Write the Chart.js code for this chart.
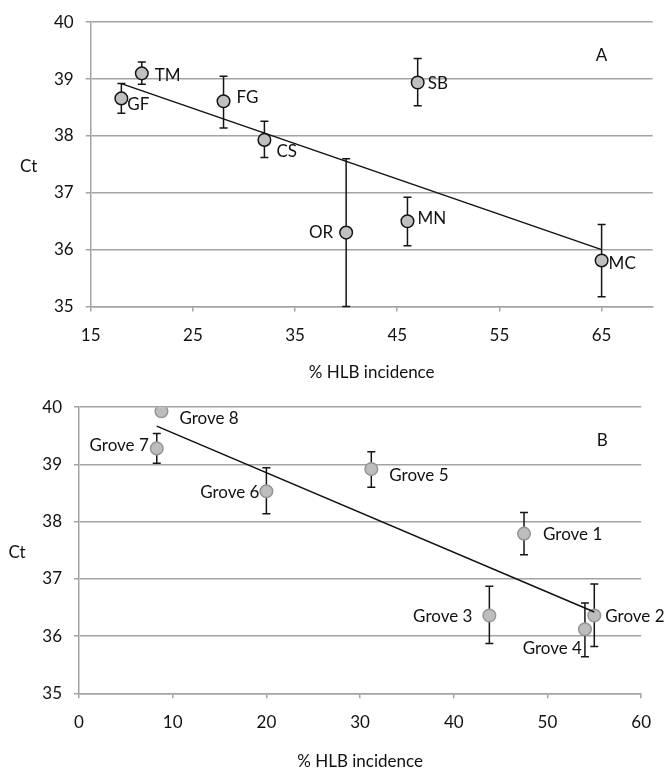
<!DOCTYPE html>
<html>
<head>
<meta charset="utf-8">
<script src="https://cdn.jsdelivr.net/npm/chart.js@4.4.1/dist/chart.umd.min.js"></script>
<style>
  body { margin: 0; background: #fff; }
  #wrap { position: relative; width: 665px; height: 770px; }
  canvas { position: absolute; left: 0; }
</style>
</head>
<body>
<div id="wrap">
  <canvas id="chartA" width="665" height="385" style="top:0"></canvas>
  <canvas id="chartB" width="665" height="385" style="top:385px"></canvas>
</div>
<script>
// Panel A
const sitesA = ["GF", "TM", "FG", "CS", "OR", "MN", "SB", "MC"];
const incidenceA = [18, 20, 28, 32, 40, 46, 47, 65];
const ctA = [38.66, 39.10, 38.61, 37.93, 36.30, 36.50, 38.94, 35.81];
const ctHighA = [38.92, 39.30, 39.05, 38.26, 37.60, 36.92, 39.36, 36.44];
const ctLowA = [38.40, 38.91, 38.14, 37.62, 35.00, 36.07, 38.53, 35.17];
const trendXA = [18, 65];
const trendYA = [38.92, 36.00];
const xTicksA = [15, 25, 35, 45, 55, 65];

// Panel B
const sitesB = ["Grove 1", "Grove 2", "Grove 3", "Grove 4", "Grove 5", "Grove 6", "Grove 7", "Grove 8"];
const incidenceB = [47.5, 55.0, 43.8, 54.0, 31.2, 20.0, 8.3, 8.8];
const ctB = [37.79, 36.36, 36.36, 36.12, 38.92, 38.53, 39.28, 39.93];
const ctHighB = [38.16, 36.91, 36.87, 36.58, 39.22, 38.94, 39.54, null];
const ctLowB = [37.42, 35.82, 35.87, 35.64, 38.60, 38.14, 39.02, null];
const trendXB = [8.3, 55.0];
const trendYB = [39.67, 36.42];
const xTicksB = [0, 10, 20, 30, 40, 50, 60];

const yTicks = [35, 36, 37, 38, 39, 40];

// label placement (px offset from point, text align)
const placeA = [[6, 6, "left"], [13, 2, "left"], [13, -4, "left"], [12, 12, "left"],
  [-13, 0, "right"], [10, -3, "left"], [10, 1, "left"], [7, 3, "left"]];
const placeB = [[19, 1, "left"], [11, 1, "left"], [-17, 1, "right"], [-3, 19, "right"],
  [18, 7, "left"], [-7, 1, "right"], [-8, -3, "right"], [18, 7, "left"]];

const FONT = "17px Lato";
const INK = "#111";
const GRID = "#a3a3a3";

function makeAnnotate(cfg) {
  return {
    id: "annotate",
    beforeDatasetsDraw(chart) {
      const { ctx, scales: { x, y } } = chart;
      ctx.save();
      ctx.strokeStyle = "#151515";
      ctx.lineWidth = 1.5;
      cfg.xs.forEach((xv, i) => {
        if (cfg.hi[i] == null) return;
        const px = x.getPixelForValue(xv);
        const top = y.getPixelForValue(cfg.hi[i]);
        const bot = y.getPixelForValue(cfg.lo[i]);
        ctx.beginPath();
        ctx.moveTo(px, top); ctx.lineTo(px, bot);
        ctx.moveTo(px - 4, top); ctx.lineTo(px + 4, top);
        ctx.moveTo(px - 4, bot); ctx.lineTo(px + 4, bot);
        ctx.stroke();
      });
      ctx.restore();
    },
    afterDraw(chart) {
      const { ctx, chartArea: a, scales: { x, y } } = chart;
      ctx.save();
      ctx.font = FONT;
      ctx.fillStyle = INK;
      ctx.textBaseline = "middle";
      cfg.names.forEach((name, i) => {
        const [dx, dy, align] = cfg.place[i];
        ctx.textAlign = align;
        ctx.fillText(name, x.getPixelForValue(cfg.xs[i]) + dx, y.getPixelForValue(cfg.ys[i]) + dy);
      });
      ctx.textAlign = "center";
      ctx.fillText(cfg.letter, x.getPixelForValue(cfg.letterAt[0]), y.getPixelForValue(cfg.letterAt[1]));
      ctx.fillText("Ct", a.left - 62, (a.top + a.bottom) / 2 + 2);
      ctx.fillText("% HLB incidence", (a.left + a.right) / 2, a.bottom + cfg.titleGap);
      ctx.restore();
    }
  };
}

function build(id, o) {
  new Chart(document.getElementById(id), {
    type: "scatter",
    data: {
      datasets: [
        {
          type: "line",
          data: o.trendX.map((v, i) => ({ x: v, y: o.trendY[i] })),
          borderColor: "#111",
          borderWidth: 1.5,
          pointRadius: 0,
          fill: false
        },
        {
          data: o.xs.map((v, i) => ({ x: v, y: o.ys[i] })),
          pointRadius: 6.3,
          pointBackgroundColor: o.fill,
          pointBorderColor: o.edge,
          pointBorderWidth: o.edgeWidth
        }
      ]
    },
    options: {
      responsive: false,
      animation: false,
      layout: { padding: { top: o.padTop, right: o.padRight, left: 0, bottom: 0 } },
      plugins: { legend: { display: false }, tooltip: { enabled: false } },
      scales: {
        x: {
          type: "linear",
          min: o.xTicks[0],
          max: o.xMax,
          afterBuildTicks: (s) => { s.ticks = o.xTicks.map(v => ({ value: v })); },
          afterFit: (s) => { s.height = o.xHeight; },
          grid: { drawOnChartArea: false, color: GRID, lineWidth: 1.5, tickLength: 5 },
          border: { color: GRID, width: 1.5 },
          ticks: { font: { family: "Lato", size: 17 }, color: INK, padding: 14, maxRotation: 0, autoSkip: false }
        },
        y: {
          min: 35,
          max: 40,
          afterBuildTicks: (s) => { s.ticks = yTicks.map(v => ({ value: v })); },
          afterFit: (s) => { s.width = o.yWidth; },
          grid: { color: GRID, lineWidth: 1.5, tickLength: 5 },
          border: { color: GRID, width: 1.5 },
          ticks: { font: { family: "Lato", size: 17 }, color: INK, padding: 12 }
        }
      }
    },
    plugins: [makeAnnotate({
      names: o.names, xs: o.xs, ys: o.ys, hi: o.hi, lo: o.lo, place: o.place,
      letter: o.letter, letterAt: o.letterAt, titleGap: o.titleGap
    })]
  });
}

build("chartA", {
  names: sitesA, xs: incidenceA, ys: ctA, hi: ctHighA, lo: ctLowA, place: placeA,
  trendX: trendXA, trendY: trendYA, xTicks: xTicksA, xMax: 70,
  letter: "A", letterAt: [65, 39.41], titleGap: 66.5,
  fill: "#c0c0c0", edge: "#151515", edgeWidth: 1.5,
  padTop: 16, padRight: 12.3, xHeight: 78.5, yWidth: 90.7
});

build("chartB", {
  names: sitesB, xs: incidenceB, ys: ctB, hi: ctHighB, lo: ctLowB, place: placeB,
  trendX: trendXB, trendY: trendYB, xTicks: xTicksB, xMax: 60,
  letter: "B", letterAt: [55.86, 39.41], titleGap: 68.4,
  fill: "#bdbdbd", edge: "#959595", edgeWidth: 1.5,
  padTop: 18.3, padRight: 23.3, xHeight: 76.7, yWidth: 79
});
</script>
</body>
</html>
